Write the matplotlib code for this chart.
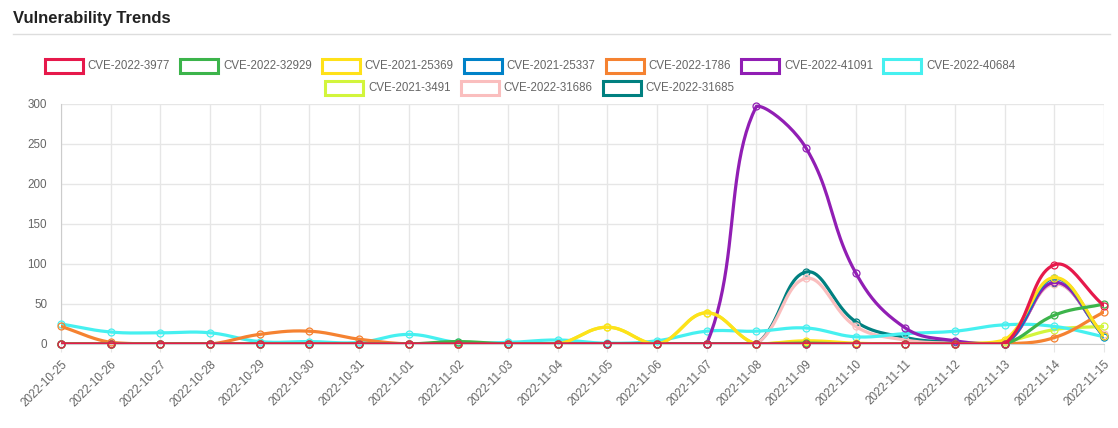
import numpy as np
import matplotlib
matplotlib.use("Agg")
import matplotlib.pyplot as plt
from matplotlib.patches import Rectangle

plt.rcParams['font.family'] = ['Liberation Sans', 'DejaVu Sans']

dates = ["2022-10-25", "2022-10-26", "2022-10-27", "2022-10-28", "2022-10-29",
         "2022-10-30", "2022-10-31", "2022-11-01", "2022-11-02", "2022-11-03",
         "2022-11-04", "2022-11-05", "2022-11-06", "2022-11-07", "2022-11-08",
         "2022-11-09", "2022-11-10", "2022-11-11", "2022-11-12", "2022-11-13",
         "2022-11-14", "2022-11-15"]

cve_names = ["CVE-2022-3977", "CVE-2022-32929", "CVE-2021-25369", "CVE-2021-25337",
             "CVE-2022-1786", "CVE-2022-41091", "CVE-2022-40684", "CVE-2021-3491",
             "CVE-2022-31686", "CVE-2022-31685"]

colors = ["#e6194b", "#3cb44b", "#ffe119", "#0082c8", "#f58231",
          "#911eb4", "#46f0f0", "#d2f53c", "#fabebe", "#008080"]

cve_2022_3977 = [0, 0, 0, 0, 0, 0, 0, 0, 0, 0, 0, 0, 0, 0, 0, 0, 0, 0, 0, 0, 99, 48]
cve_2022_32929 = [0, 0, 0, 0, 0, 0, 0, 0, 3, 0, 0, 0, 0, 0, 0, 1, 0, 0, 0, 0, 36, 50]
cve_2021_25369 = [0, 0, 0, 0, 0, 0, 0, 0, 0, 0, 0, 21, 0, 39, 0, 4, 1, 0, 0, 5, 83, 10]
cve_2021_25337 = [0, 0, 0, 0, 0, 0, 0, 0, 0, 0, 0, 0, 0, 0, 0, 0, 0, 0, 0, 0, 82, 9]
cve_2022_1786 = [22, 2, 0, 0, 12, 16, 6, 0, 0, 0, 0, 0, 0, 0, 0, 0, 0, 0, 0, 0, 8, 40]
cve_2022_41091 = [0, 0, 0, 0, 0, 0, 0, 0, 0, 0, 0, 0, 0, 0, 297, 245, 89, 20, 4, 0, 77, 10]
cve_2022_40684 = [25, 15, 14, 14, 3, 3, 2, 12, 2, 2, 5, 1, 4, 16, 16, 20, 9, 13, 16, 24, 22, 9]
cve_2021_3491 = [0, 0, 0, 0, 0, 0, 0, 0, 0, 0, 0, 21, 0, 39, 0, 3, 0, 0, 0, 3, 18, 22]
cve_2022_31686 = [0, 0, 0, 0, 0, 0, 0, 0, 0, 0, 0, 0, 0, 0, 0, 82, 22, 5, 1, 0, 75, 12]
cve_2022_31685 = [0, 0, 0, 0, 0, 0, 0, 0, 0, 0, 0, 0, 0, 0, 0, 90, 28, 8, 2, 0, 76, 10]

series = [cve_2022_3977, cve_2022_32929, cve_2021_25369, cve_2021_25337, cve_2022_1786,
          cve_2022_41091, cve_2022_40684, cve_2021_3491, cve_2022_31686, cve_2022_31685]

# pixel-ish scale so the spline looks like the chart.js one
SX = 49.67
SY = 0.8
YMAX = 300


def smooth(values, tension=0.4, steps=24):
    x = np.arange(len(values)) * SX
    y = np.array(values, dtype=float) * SY
    n = len(x)
    cp_prev = []
    cp_next = []
    for i in range(n):
        px, py = (x[i - 1], y[i - 1]) if i > 0 else (x[i], y[i])
        nx, ny = (x[i + 1], y[i + 1]) if i < n - 1 else (x[i], y[i])
        d01 = np.hypot(x[i] - px, y[i] - py)
        d12 = np.hypot(nx - x[i], ny - y[i])
        tot = d01 + d12
        s01 = d01 / tot if tot else 0
        s12 = d12 / tot if tot else 0
        fa, fb = tension * s01, tension * s12
        a = (x[i] - fa * (nx - px), y[i] - fa * (ny - py))
        b = (x[i] + fb * (nx - px), y[i] + fb * (ny - py))
        a = (np.clip(a[0], 0, x[-1]), np.clip(a[1], 0, YMAX * SY))
        b = (np.clip(b[0], 0, x[-1]), np.clip(b[1], 0, YMAX * SY))
        cp_prev.append(a)
        cp_next.append(b)
    xs, ys = [x[0]], [y[0]]
    t = np.linspace(0, 1, steps)[1:]
    for i in range(n - 1):
        p0 = np.array([x[i], y[i]])
        p1 = np.array(cp_next[i])
        p2 = np.array(cp_prev[i + 1])
        p3 = np.array([x[i + 1], y[i + 1]])
        pts = ((1 - t) ** 3)[:, None] * p0 + (3 * (1 - t) ** 2 * t)[:, None] * p1 \
            + (3 * (1 - t) * t ** 2)[:, None] * p2 + (t ** 3)[:, None] * p3
        xs.extend(pts[:, 0])
        ys.extend(pts[:, 1])
    return np.array(xs) / SX, np.array(ys) / SY


fig = plt.figure(figsize=(11.18, 4.28), dpi=100)
ax = fig.add_axes([61 / 1118, 1 - 344 / 428, (1104 - 61) / 1118, 240 / 428])

idx = np.arange(len(dates))
for k, (vals, col) in enumerate(zip(series, colors)):
    z = 20 - k
    sx, sy = smooth(vals)
    ax.plot(sx, sy, color=col, lw=2.3, zorder=z, solid_capstyle='round')
    ax.plot(idx, vals, 'o', ms=5, mfc='none', mec=col, mew=0.9, zorder=z, clip_on=False)

ax.set_xlim(0, len(dates) - 1)
ax.set_ylim(0, YMAX)
ax.set_xticks(idx)
ax.set_xticklabels(dates, rotation=45, ha='right', rotation_mode='anchor')
ax.set_yticks(range(0, 301, 50))
ax.grid(True, color='#e6e6e6', lw=1)
ax.set_axisbelow(True)
ax.tick_params(axis='x', length=6, color='#e6e6e6', labelcolor='#666666', labelsize=8.4, pad=4)
ax.tick_params(axis='y', length=0, labelcolor='#666666', labelsize=8.4, pad=10)
for s in ['top', 'right']:
    ax.spines[s].set_visible(False)
ax.spines['left'].set_color('#cccccc')
ax.spines['bottom'].set_color('#cccccc')

# title and rule
fig.text(13 / 1118, 1 - 19 / 428, "Vulnerability Trends", fontsize=12, fontweight='bold',
         color='#222222', va='center', ha='left')
fig.add_artist(plt.Line2D([13 / 1118, 1110 / 1118], [1 - 34 / 428] * 2, color='#dddddd', lw=1))

# legend drawn by hand, two centred rows
fig.canvas.draw()
renderer = fig.canvas.get_renderer()
rows = [list(range(7)), list(range(7, 10))]
row_y = [66, 88]
box_w, box_h, gap, spacing = 38, 13, 5, 10
center = 530
legend_fs = 8.3
for row, yc in zip(rows, row_y):
    widths = []
    for k in row:
        t = fig.text(0, 0, cve_names[k], fontsize=legend_fs)
        widths.append(t.get_window_extent(renderer).width)
        t.remove()
    total = sum(box_w + gap + w for w in widths) + spacing * (len(row) - 1)
    x = center - total / 2
    for k, w in zip(row, widths):
        fig.add_artist(Rectangle((x / 1118, 1 - (yc + box_h / 2) / 428), box_w / 1118, box_h / 428,
                                 fill=True, facecolor='white', edgecolor=colors[k], lw=2.2,
                                 transform=fig.transFigure))
        fig.text((x + box_w + gap) / 1118, 1 - yc / 428, cve_names[k], fontsize=legend_fs,
                 color='#666666', va='center', ha='left')
        x += box_w + gap + w + spacing

fig.savefig("out.png", dpi=100)
